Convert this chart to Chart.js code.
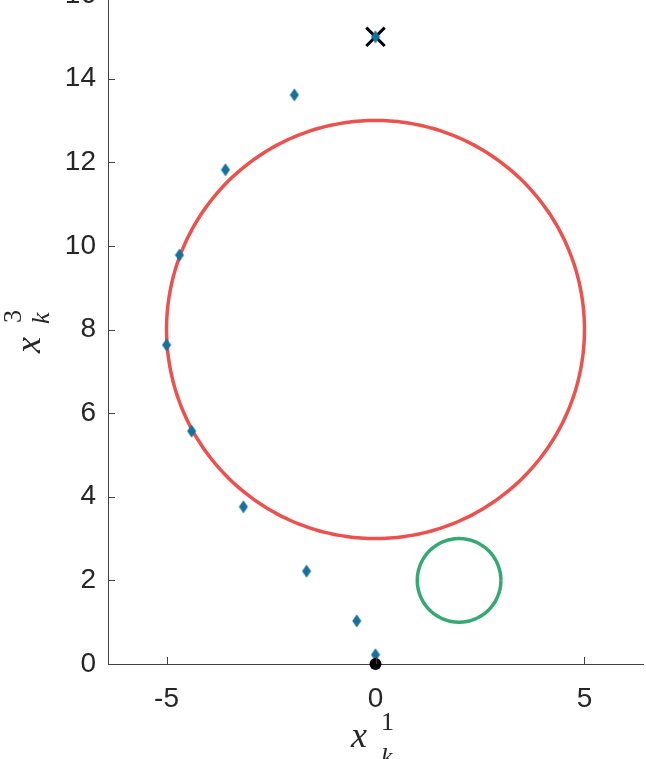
<!DOCTYPE html>
<html>
<head>
<meta charset="utf-8">
<script src="https://cdn.jsdelivr.net/npm/chart.js@4/dist/chart.umd.min.js"></script>
<style>
  html, body { margin: 0; padding: 0; background: #fff; }
  #wrap { position: relative; width: 646px; height: 759px; overflow: hidden; }
  #plot { position: absolute; left: 0; top: -40px; }
</style>
</head>
<body>
<div id="wrap"><canvas id="plot" width="646" height="800"></canvas></div>
<script>
// trajectory points x_k (diamonds)
const trajX = [0, -1.94, -3.59, -4.69, -5.0, -4.40, -3.16, -1.65, -0.45, 0];
const trajY = [15.0, 13.61, 11.82, 9.78, 7.63, 5.57, 3.76, 2.22, 1.03, 0.22];
// start / goal markers
const goalPoint = [0, 15];
const startPoint = [0, 0];
// obstacles: [centerX, centerY, radius]
const bigObstacle = [0, 8, 5];
const smallObstacle = [2, 2, 1];
// ticks
const xTickVals = [-5, 0, 5];
const yTickVals = [0, 2, 4, 6, 8, 10, 12, 14, 16];

function circlePts(c) {
    const pts = [];
    for (let i = 0; i <= 360; i += 2) {
        const a = i * Math.PI / 180;
        pts.push({ x: c[0] + c[2] * Math.cos(a), y: c[1] + c[2] * Math.sin(a) });
    }
    return pts;
}

// elongated diamond marker, like the matlab 'd'
const diamond = document.createElement('canvas');
diamond.width = 10; diamond.height = 14;
(function() {
    const d = diamond.getContext('2d');
    d.fillStyle = '#17719a';
    d.beginPath();
    d.moveTo(5, 0.5); d.lineTo(9.5, 7); d.lineTo(5, 13.5); d.lineTo(0.5, 7);
    d.closePath();
    d.fill();
})();

const axisColor = '#404040';
const tickFont = { family: '"Liberation Sans", Arial, sans-serif', size: 28 };

// inward tick marks + axis titles
const extras = {
    id: 'extras',
    afterDraw(chart) {
        const ctx = chart.ctx;
        const xs = chart.scales.x, ys = chart.scales.y;
        const area = chart.chartArea;
        ctx.save();
        ctx.strokeStyle = axisColor;
        ctx.lineWidth = 1;
        ctx.beginPath();
        xTickVals.forEach(v => {
            const px = Math.round(xs.getPixelForValue(v)) + 0.5;
            ctx.moveTo(px, area.bottom); ctx.lineTo(px, area.bottom - 7);
        });
        yTickVals.forEach(v => {
            const py = Math.round(ys.getPixelForValue(v)) + 0.5;
            ctx.moveTo(area.left, py); ctx.lineTo(area.left + 7, py);
        });
        ctx.stroke();

        // x title: x_k^1
        ctx.fillStyle = '#262626';
        ctx.textBaseline = 'alphabetic';
        ctx.textAlign = 'left';
        ctx.font = 'italic 36px "Liberation Serif", serif';
        ctx.fillText('x', 351, 747 + 40);
        ctx.font = '26px "Liberation Serif", serif';
        ctx.fillText('1', 381, 730 + 40);
        ctx.font = 'italic 26px "Liberation Serif", serif';
        ctx.fillText('k', 381, 765 + 40);

        // y title: x_k^3 rotated
        ctx.translate(40, 353 + 40);
        ctx.rotate(-Math.PI / 2);
        ctx.font = 'italic 36px "Liberation Serif", serif';
        ctx.fillText('x', 0, 0);
        ctx.font = '26px "Liberation Serif", serif';
        ctx.fillText('3', 30, -19);
        ctx.font = 'italic 26px "Liberation Serif", serif';
        ctx.fillText('k', 29, 9);
        ctx.restore();
    }
};

new Chart(document.getElementById('plot'), {
    type: 'scatter',
    data: {
        datasets: [
            {
                label: 'start',
                data: [{ x: startPoint[0], y: startPoint[1] }],
                pointStyle: 'circle',
                pointRadius: 6,
                backgroundColor: '#000',
                borderColor: '#000',
                borderWidth: 0,
                clip: false
            },
            {
                label: 'trajectory',
                data: trajX.map((x, i) => ({ x: x, y: trajY[i] })),
                pointStyle: diamond,
                showLine: false
            },
            {
                label: 'goal',
                data: [{ x: goalPoint[0], y: goalPoint[1] }],
                pointStyle: 'crossRot',
                pointRadius: 13,
                borderColor: '#000',
                borderWidth: 3
            },
            {
                label: 'obstacle 1',
                data: circlePts(bigObstacle),
                showLine: true,
                tension: 0.2,
                borderColor: '#ec514e',
                borderWidth: 3.5,
                pointRadius: 0,
                fill: false
            },
            {
                label: 'obstacle 2',
                data: circlePts(smallObstacle),
                showLine: true,
                tension: 0.2,
                borderColor: '#35a874',
                borderWidth: 3.5,
                pointRadius: 0,
                fill: false
            }
        ]
    },
    options: {
        responsive: false,
        animation: false,
        devicePixelRatio: 1,
        layout: { autoPadding: false, padding: { top: 35, right: 3, left: 0, bottom: 0 } },
        plugins: { legend: { display: false }, tooltip: { enabled: false } },
        scales: {
            x: {
                type: 'linear',
                min: -6.4,
                max: 6.4,
                afterBuildTicks: s => { s.ticks = xTickVals.map(v => ({ value: v })); },
                afterFit: s => { s.height = 96; s.paddingLeft = 0; s.paddingRight = 0; },
                grid: { display: false, drawTicks: false },
                border: { display: true, color: axisColor, width: 1 },
                ticks: { font: tickFont, color: '#262626', padding: 18, maxRotation: 0 }
            },
            y: {
                type: 'linear',
                min: 0,
                max: 16,
                afterBuildTicks: s => { s.ticks = yTickVals.map(v => ({ value: v })); },
                afterFit: s => { s.width = 108; },
                grid: { display: false, drawTicks: false },
                border: { display: true, color: axisColor, width: 1 },
                ticks: { font: tickFont, color: '#262626', padding: 12 }
            }
        }
    },
    plugins: [extras]
});
</script>
</body>
</html>
